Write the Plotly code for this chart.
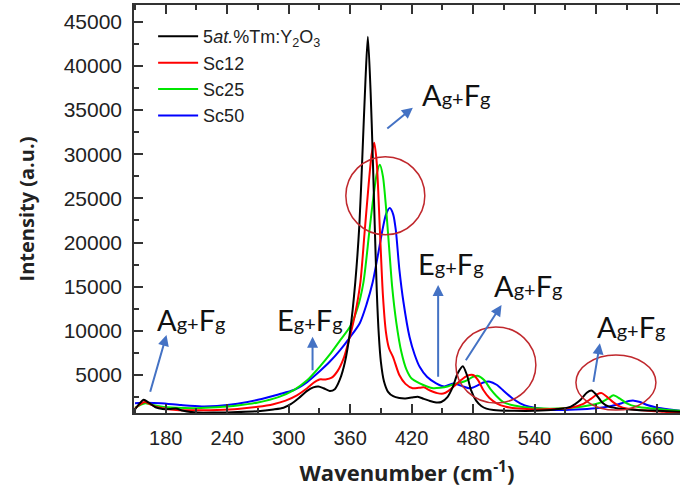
import plotly.graph_objects as go

# ---------------- data ----------------
x_black = [150, 154, 158.5, 163, 170, 177, 184, 190, 197, 210, 230, 250, 270, 285, 295, 302, 310, 318, 324, 329, 334, 340, 345,
           350, 355, 360, 365, 369, 372, 375, 377.3, 380, 382, 384, 386, 388, 390, 393, 397, 402, 408, 414, 420, 426, 432,
           438, 444, 449, 455, 460, 465, 470, 474, 478, 483, 488, 493, 500, 520, 540, 560, 575, 585, 591, 595.5, 600, 606,
           612, 620, 640, 660, 682]
y_black = [1100, 1700, 2200, 1900, 1350, 1150, 1150, 1200, 950, 750, 750, 800, 900, 1100, 1300, 1700, 2400, 3200, 3600, 3700,
           3500, 3200, 3400, 4500, 6500, 10000, 15500, 22000, 30000, 38500, 43300, 37000, 30000, 22000, 14500, 9500, 6500,
           4300, 3100, 2600, 2400, 2350, 2450, 2550, 2300, 2050, 1900, 1950, 2500, 3600, 5200, 6000, 5000, 3300, 2100,
           1500, 1200, 1050, 950, 950, 1100, 1400, 2200, 3000, 3250, 2800, 1900, 1450, 1250, 1050, 950, 850]

x_sc12 = [150, 154, 159.5, 164, 170, 177, 190, 210, 230, 250, 270, 285, 297, 308, 318, 324, 330, 336, 342, 348, 354, 360, 365,
          370, 374, 378, 381, 383.5, 386, 389, 392, 395, 398, 402, 408, 414, 421, 427, 432, 438, 445, 451, 456, 462, 468,
          474, 480, 485, 490, 496, 503, 512, 525, 540, 560, 575, 587, 595, 601, 605.5, 611, 617, 623, 630, 645, 660, 672, 682]
y_sc12 = [1200, 1600, 1950, 1750, 1400, 1250, 1050, 1000, 1050, 1150, 1400, 1700, 2100, 2700, 3500, 4100, 4500, 4500, 4700,
          5500, 7000, 9500, 12000, 15500, 21000, 26500, 30000, 31300, 29000, 21500, 14000, 9800, 8000, 7000, 5000, 4000,
          3500, 3550, 3600, 3250, 2950, 2900, 3200, 3800, 4400, 4900, 5000, 4400, 3300, 2400, 1800, 1400, 1200, 1100,
          1150, 1300, 1700, 2300, 2800, 2950, 2500, 1900, 1450, 1200, 1000, 900, 780, 700]

x_sc25 = [150, 155, 160, 166, 175, 190, 210, 230, 250, 270, 290, 305, 318, 330, 340, 350, 360, 367, 373, 378.5, 382, 386, 389,
          392, 395, 398, 401, 405, 410, 415, 420, 428, 435, 441, 448, 455, 462, 468, 474, 480, 485, 491, 497, 503, 510,
          520, 535, 550, 570, 590, 605, 612, 617, 623, 630, 640, 655, 670, 682]
y_sc25 = [1300, 1600, 1800, 1650, 1450, 1300, 1250, 1350, 1550, 1900, 2500, 3300, 4400, 5900, 7300, 8900, 10500, 12500, 15500,
          21000, 24500, 27800, 28800, 27500, 24000, 19500, 15000, 11000, 7600, 5600, 4600, 4050, 3700, 3500, 3550, 3700,
          4000, 4150, 4400, 4800, 4900, 4400, 3400, 2600, 1900, 1550, 1300, 1200, 1250, 1500, 1900, 2350, 2700, 2350,
          1800, 1400, 1200, 1050, 950]

x_sc50 = [150, 160, 175, 195, 215, 230, 250, 270, 290, 305, 318, 330, 340, 350, 360, 369.5, 376, 382, 387, 391.5, 395, 398.7,
          402, 404.6, 408, 412, 418, 423, 428, 435, 444, 452, 460.5, 468, 477, 484, 490, 496.4, 503, 510, 518, 526, 535,
          545, 558, 580, 600, 615, 625, 632, 637, 643, 650, 660, 672, 682]
y_sc50 = [1800, 1850, 1800, 1600, 1450, 1500, 1750, 2200, 2800, 3300, 4200, 5400, 6500, 7800, 9300, 10900, 13000, 15500, 18500,
          21400, 23200, 23900, 23200, 21400, 17000, 13300, 9300, 7300, 5900, 4800, 4050, 3700, 4050, 3800, 3500, 3800,
          4150, 4250, 3900, 3200, 2400, 1800, 1400, 1200, 1050, 1100, 1250, 1500, 1800, 2050, 2100, 1950, 1600, 1300,
          1100, 950]

series_names = ["Sc50", "Sc25", "Sc12", "5<i>at.</i>%Tm:Y<sub>2</sub>O<sub>3</sub>"]
series_x = [x_sc50, x_sc25, x_sc12, x_black]
series_y = [y_sc50, y_sc25, y_sc12, y_black]
series_colors = ["#0000ff", "#00e600", "#ff0000", "#000000"]

x_ticks = [180, 240, 300, 360, 420, 480, 540, 600, 660]

# ---------------- figure ----------------
fig = go.Figure()
for nm, xs, ys, col in zip(series_names, series_x, series_y, series_colors):
    fig.add_trace(go.Scatter(x=xs, y=ys, mode="lines", name=nm,
                             line=dict(color=col, width=2, shape="spline", smoothing=0.7)))

AX = "#333333"
fig.update_layout(
    width=680, height=494,
    margin=dict(l=134, r=0, t=5, b=81),
    paper_bgcolor="white", plot_bgcolor="white",
    font=dict(family="Liberation Sans, Arial, sans-serif", color="#222222"),
    showlegend=True,
    legend=dict(x=0.035, y=0.968, xanchor="left", yanchor="top", traceorder="reversed",
                bgcolor="rgba(0,0,0,0)", font=dict(size=18, family="Liberation Sans, Arial, sans-serif"),
                itemwidth=40, tracegroupgap=0),
)
fig.update_xaxes(
    range=[149, 682], tickvals=x_ticks, ticks="inside", ticklen=9, tickwidth=1.5, tickcolor=AX,
    minor=dict(dtick=30, tick0=0, ticks="inside", ticklen=5, tickwidth=1.5, tickcolor=AX),
    showline=True, linecolor=AX, linewidth=1.5, mirror="ticks", showgrid=False, zeroline=False,
    tickfont=dict(size=20), ticklabelstandoff=6,
    title=dict(text="<b>Wavenumber (cm<sup>-1</sup>)</b>", font=dict(size=22, family="Open Sans, sans-serif"), standoff=18),
)
fig.update_yaxes(
    range=[700, 46900], dtick=5000, tick0=0, tickformat="d", ticks="inside", ticklen=9, tickwidth=1.5, tickcolor=AX,
    minor=dict(dtick=2500, tick0=0, ticks="inside", ticklen=5, tickwidth=1.5, tickcolor=AX),
    showline=True, linecolor=AX, linewidth=1.5, mirror=False, showgrid=False, zeroline=False,
    tickfont=dict(size=21), ticklabelstandoff=6,
    title=dict(text="<b>Intensity (a.u.)</b>", font=dict(size=20, family="Open Sans, sans-serif"), standoff=24),
)

# ---------------- mode labels, arrows, circles ----------------
ARROW = "#4472c4"
CIRC = "#c0282d"

def label(x, y):
    return dict(x=x, y=y, xref="x", yref="y", showarrow=False,
                text="A<span style='font-size:20px'>g+</span>F<span style='font-size:20px'>g</span>",
                font=dict(size=29, family="Lato, sans-serif", color="#111111"))

def elabel(x, y):
    d = label(x, y)
    d["text"] = "E<span style='font-size:20px'>g+</span>F<span style='font-size:20px'>g</span>"
    return d

def arrow(x0, y0, x1, y1):
    return dict(x=x1, y=y1, ax=x0, ay=y0, xref="x", yref="y", axref="x", ayref="y", text="",
                showarrow=True, arrowhead=2, arrowsize=1.1, arrowwidth=2, arrowcolor=ARROW, standoff=0)

annotations = [
    label(205, 11300), arrow(164.4, 2925, 180.7, 9536),
    elabel(320.6, 11300), arrow(323.3, 5374, 323.3, 9343),
    label(463, 36800), arrow(394.8, 32783, 421.2, 35278),
    elabel(458.3, 17650), arrow(445.9, 4626, 445.9, 15206),
    label(533.5, 15150), arrow(472, 6508, 507.8, 12938),
    label(634, 10500), arrow(597.3, 4059, 603.8, 8595),
]
fig.update_layout(annotations=annotations)

shapes = [
    dict(type="circle", xref="x", yref="y", x0=355.8, x1=432.9, y0=20876, y1=29721, line=dict(color=CIRC, width=1.5)),
    dict(type="circle", xref="x", yref="y", x0=463.2, x1=541.3, y0=1825, y1=10443, line=dict(color=CIRC, width=1.5)),
    dict(type="circle", xref="x", yref="y", x0=580.4, x1=658.5, y0=1031, y1=7268, line=dict(color=CIRC, width=1.5)),
]
fig.update_layout(shapes=shapes)

fig.write_html("out.html")
